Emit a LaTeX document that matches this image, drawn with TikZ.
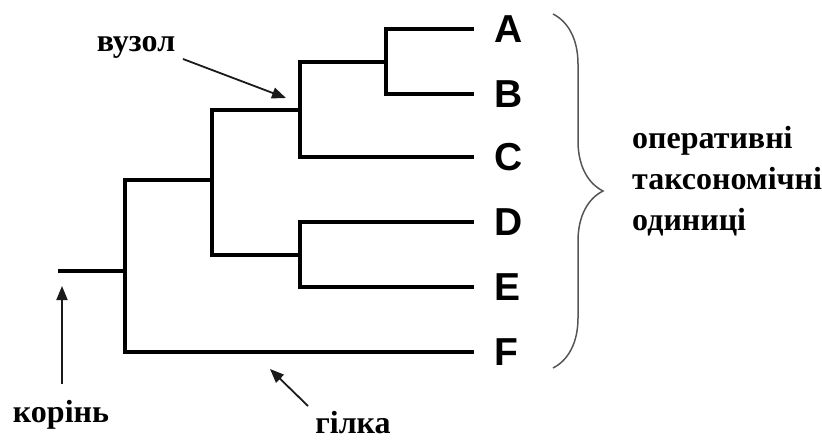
\documentclass[tikz,border=0pt]{standalone}
\usepackage{fontspec}
\setmainfont{Liberation Serif}
\newfontfamily\taxonfont{Liberation Sans}
\usepackage{tikz}
\usetikzlibrary{arrows.meta,positioning,decorations.pathreplacing}
\definecolor{TreeInk}{HTML}{000000}
\definecolor{PointerInk}{HTML}{1A1A1A}
\definecolor{BraceInk}{HTML}{555555}
\tikzset{
  cladogram/.style={x=1pt,y=-1pt,font=\bfseries\fontsize{32}{41}\selectfont},
  branch/.style={draw=TreeInk,line width=4pt,line join=miter},
  taxon/.style={font=\taxonfont\bfseries\fontsize{39}{39}\selectfont,inner sep=0pt,anchor=west},
  pointer/.style={-{Triangle[length=14pt,width=11pt]},draw=PointerInk,line width=1.8pt},
  caption/.style={inner sep=0pt,anchor=base,align=left},
}

\begin{document}
\begin{tikzpicture}[cladogram]
  \useasboundingbox (0,0) rectangle (822,441);

  % tips of the leaves
  \coordinate (tA) at (474,29);
  \coordinate (tB) at (474,94);
  \coordinate (tC) at (474,157);
  \coordinate (tD) at (474,222);
  \coordinate (tE) at (474,287);
  \coordinate (tF) at (474,352);

  % inner nodes
  \coordinate (nAB) at (386,62);
  \coordinate (nABC) at (300,110);
  \coordinate (nDE) at (300,255);
  \coordinate (nAE) at (212,180);
  \coordinate (nRoot) at (125,271);
  \coordinate (stem) at (58,271);

  \draw[branch] (nAB) |- (tA) (nAB) |- (tB);
  \draw[branch] (nABC) |- (nAB) (nABC) |- (tC);
  \draw[branch] (nDE) |- (tD) (nDE) |- (tE);
  \draw[branch] (nAE) |- (nABC) (nAE) |- (nDE);
  \draw[branch] (nRoot) |- (nAE) (nRoot) |- (tF);
  \draw[branch] (stem) -- (nRoot);

  \foreach \t in {A,B,C,D,E,F}
    \node[taxon,right=20pt of t\t] (\t) {\t};

  % brace over all the taxa
  \coordinate (braceTop) at (553,14);
  \coordinate (braceBot) at (553,368);
  \draw[BraceInk,line width=1.5pt,decorate,decoration={brace,amplitude=50pt}]
    (braceTop) -- (braceBot);
  \node[caption,anchor=base west] (otu) at (632,230)
    {оперативні\\таксономічні\\одиниці};

  % pointers
  \node[caption] (nodeLbl) at (136,52) {вузол};
  \coordinate (nodeTail) at (183,59);
  \coordinate (nodeTip) at (286,98);
  \draw[pointer] (nodeTail) -- (nodeTip);

  \node[caption] (rootLbl) at (61,422) {корінь};
  \coordinate (rootTail) at (62,384);
  \coordinate (rootTip) at (62,286);
  \draw[pointer] (rootTail) -- (rootTip);

  \node[caption] (branchLbl) at (353,433) {гілка};
  \coordinate (branchTail) at (308,406);
  \coordinate (branchTip) at (270,369);
  \draw[pointer] (branchTail) -- (branchTip);
\end{tikzpicture}
\end{document}
